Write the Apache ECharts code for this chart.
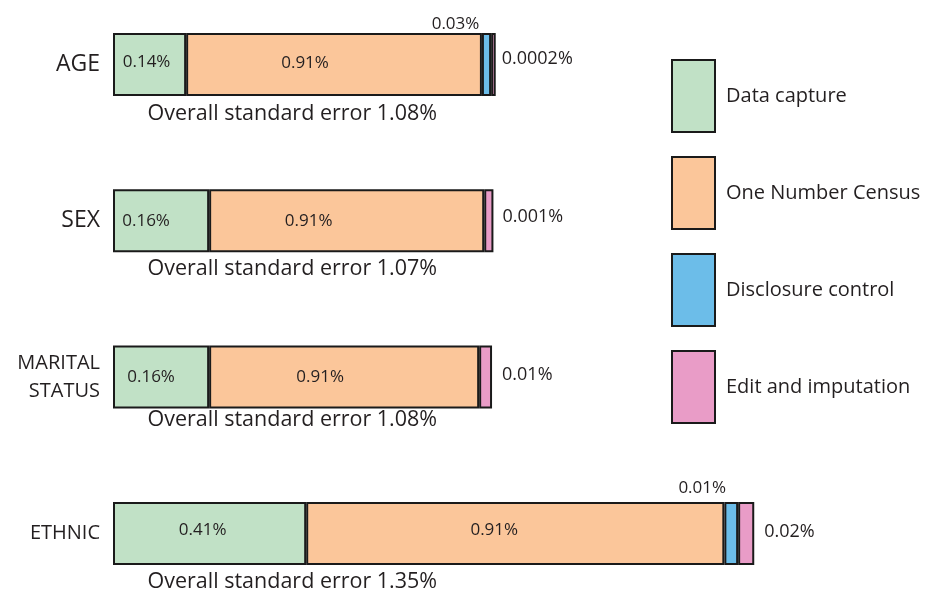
<!DOCTYPE html>
<html><head><meta charset="utf-8">
<script src="https://cdn.jsdelivr.net/npm/echarts@6/dist/echarts.min.js"></script>
<style>html,body{margin:0;padding:0;background:#fff}#c{width:932px;height:595px}</style>
</head><body><div id="c"></div>
<script>
// ---- data ----
const categories = ['AGE', 'SEX', 'MARITAL\nSTATUS', 'ETHNIC'];
const seriesNames = ['Data capture', 'One Number Census', 'Disclosure control', 'Edit and imputation'];
// printed component standard errors (%)
const captureValue = [0.14, 0.16, 0.16, 0.41];
const oncValue = [0.91, 0.91, 0.91, 0.91];
const disclosureValue = [0.03, null, null, 0.01];
const editValue = [0.0002, 0.001, 0.01, 0.02];
const overallError = [1.08, 1.07, 1.08, 1.35];
// segment lengths as drawn in the (schematic, not-to-scale) picture
const captureLen = [0.159, 0.209, 0.209, 0.420];
const oncLen = [0.643, 0.598, 0.587, 0.909];
const disclosureLen = [0.020, null, null, 0.030];
const editLen = [0.010, 0.020, 0.028, 0.035];

// ---- style ----
const TXT = '#231f20';
const FONT = '"Open Sans", sans-serif';
const BORDER = '#1a1a1a';
const colors = ['#c1e1c6', '#fbc69a', '#6cbde9', '#e99cc7'];

function segSeries(idx, lens, vals, labelBase, perItem) {
  return {
    name: seriesNames[idx], type: 'bar', stack: 'total', barWidth: 63,
    itemStyle: { color: colors[idx], borderColor: BORDER, borderWidth: 2 },
    label: Object.assign({ show: true, color: TXT, fontFamily: FONT, fontSize: 17,
      formatter: p => vals[p.dataIndex] + '%' }, labelBase),
    data: lens.map((v, i) => v == null ? null : { value: v, label: perItem[i] || {} })
  };
}

const option = {
  animation: false,
  textStyle: { fontFamily: FONT, color: TXT },
  legend: {
    orient: 'vertical', left: 671, top: 59, padding: 0, itemWidth: 43, itemHeight: 72, itemGap: 23,
    selectedMode: false, icon: 'rect', data: seriesNames,
    itemStyle: { borderColor: BORDER, borderWidth: 2 },
    textStyle: { fontSize: 20, color: TXT, fontFamily: FONT, padding: [0, 0, 0, 6] }
  },
  grid: { left: 113, width: 690, top: -13.7, height: 625.3, outerBoundsMode: 'none', containLabel: false },
  xAxis: { type: 'value', min: 0, max: 1.5, show: false },
  yAxis: {
    type: 'category', inverse: true, data: categories,
    axisLine: { show: false }, axisTick: { show: false }, splitLine: { show: false },
    axisLabel: {
      color: TXT, fontFamily: FONT, fontSize: 23, margin: 13,
      formatter: v => v.indexOf('\n') >= 0 ? '{m|' + v.replace('\n', '}\n{m|') + '}'
                 : (v === 'ETHNIC' ? '{e|' + v + '}' : v),
      rich: {
        m: { fontSize: 20, lineHeight: 28, fontFamily: FONT, color: TXT },
        e: { fontSize: 20, fontFamily: FONT, color: TXT }
      }
    }
  },
  series: [
    segSeries(0, captureLen, captureValue, { position: 'inside' },
      [{ offset: [-3, -2] }, { offset: [-15, 0] }, { offset: [-10, 0] }, { offset: [-7, -3] }]),
    segSeries(1, oncLen, oncValue, { position: 'inside' },
      [{ offset: [-29, -1] }, { offset: [-38, 0] }, { offset: [-24, 0] }, { offset: [-21, -3] }]),
    segSeries(2, disclosureLen, disclosureValue, { position: 'top', distance: 0 },
      [{ offset: [-31, 0] }, null, null, { offset: [-29, -5] }]),
    segSeries(3, editLen, editValue, { position: 'right', distance: 0, fontSize: 18 },
      [{ offset: [6, -6] }, { offset: [9, -4] }, { offset: [10, -2] }, { offset: [10, -2] }]),
    {
      name: 'overall', type: 'scatter', symbolSize: 1, silent: true,
      itemStyle: { color: 'rgba(0,0,0,0)', opacity: 1 },
      label: { show: true, position: 'right', distance: 0, color: TXT, opacity: 1, fontFamily: FONT, fontSize: 21.5,
        formatter: p => 'Overall standard error ' + overallError[p.dataIndex] + '%' },
      data: overallError.map((v, i) => ({ value: [0, i], label: { offset: [34, [49, 48, 43, 48][i]] } }))
    }
  ]
};
const chart = echarts.init(document.getElementById('c'), null, { renderer: 'canvas' });
chart.setOption(option);
</script></body></html>
